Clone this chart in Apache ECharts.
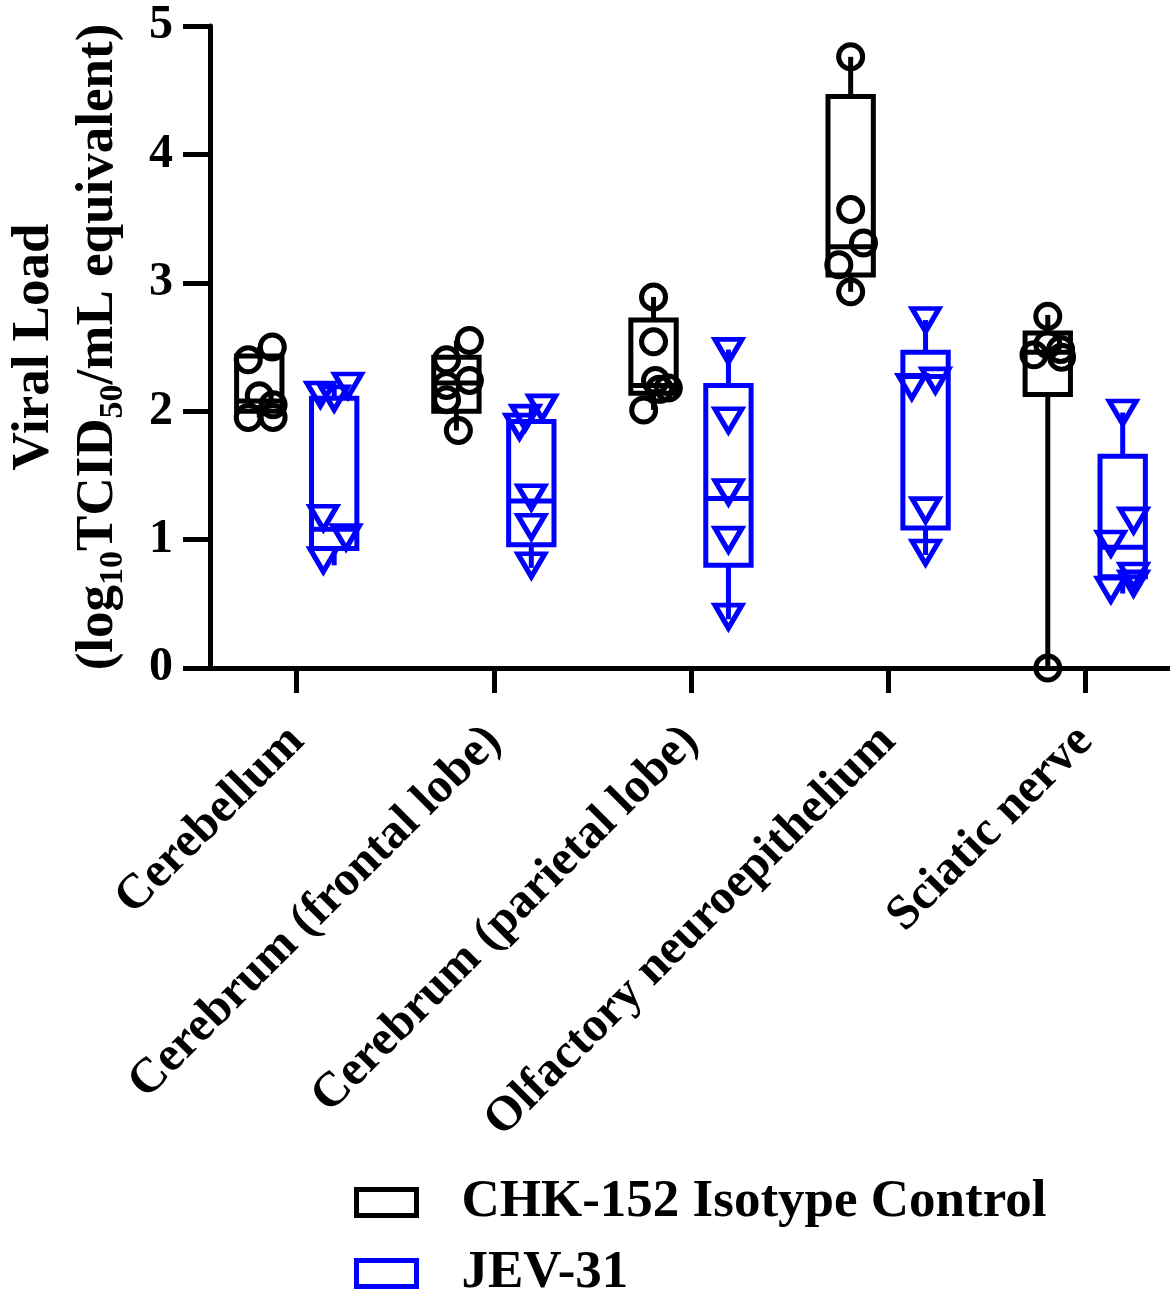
<!DOCTYPE html>
<html>
<head>
<meta charset="utf-8">
<title>Viral Load</title>
<script src="https://cdn.jsdelivr.net/npm/echarts@6/dist/echarts.min.js"></script>
<style>
    html, body { margin: 0; padding: 0; background: #fff; }
    #chart { width: 1170px; height: 1291px; }
</style>
</head>
<body>
<div id="chart"></div>
<script>
    // tissues on the x axis
    const categories = ['Cerebellum', 'Cerebrum (frontal lobe)', 'Cerebrum (parietal lobe)', 'Olfactory neuroepithelium', 'Sciatic nerve']
    const groups = ['CHK-152 Isotype Control', 'JEV-31']
    const yTicks = [0, 1, 2, 3, 4, 5]

    // box stats per tissue: [min, q1, median, q3, max]
    const isoBox = [
        [1.95, 2.00, 2.08, 2.43, 2.50],
        [1.85, 2.00, 2.22, 2.42, 2.55],
        [2.01, 2.14, 2.20, 2.71, 2.89],
        [2.93, 3.06, 3.28, 4.45, 4.76],
        [0.00, 2.13, 2.46, 2.61, 2.75]
    ]
    const jevBox = [
        [0.80, 0.93, 1.08, 2.10, 2.20],
        [0.78, 0.96, 1.30, 1.92, 2.03],
        [0.38, 0.80, 1.32, 2.20, 2.48],
        [0.88, 1.09, 2.27, 2.46, 2.71],
        [0.58, 0.71, 0.94, 1.65, 1.99]
    ]

    // individual animals
    const isoPoints = [
        [2.50, 2.40, 2.12, 2.05, 1.95, 1.95],
        [2.55, 2.40, 2.24, 2.20, 2.09, 1.85],
        [2.89, 2.54, 2.24, 2.18, 2.17, 2.01],
        [4.76, 3.57, 3.31, 3.14, 2.93],
        [2.74, 2.52, 2.48, 2.44, 2.42, 0.00]
    ]
    const jevPoints = [
        [2.20, 2.13, 2.10, 1.17, 1.02, 0.84],
        [2.03, 1.95, 1.88, 1.33, 1.10, 0.80],
        [2.47, 1.93, 1.37, 1.00, 0.40],
        [2.71, 2.24, 2.19, 1.23, 0.90],
        [1.99, 1.15, 0.97, 0.72, 0.66, 0.61]
    ]

    // horizontal scatter of the dots inside a box (category units)
    const isoJitter = [
        [0.066, -0.056, 0, 0.07, -0.056, 0.07],
        [0.066, -0.05, 0.066, -0.05, -0.05, 0.01],
        [0, 0, 0.01, 0.075, 0.03, -0.05],
        [0, 0, 0.065, -0.06, 0],
        [0, 0, 0.065, -0.07, 0.07, 0]
    ]
    const jevJitter = [
        [0.07, -0.07, 0, -0.055, 0.06, -0.055],
        [0.055, -0.03, -0.06, 0, 0, 0],
        [0, 0, 0, 0, 0],
        [0, 0.05, -0.07, 0, 0],
        [0, 0.055, -0.06, 0.055, 0.055, -0.06]
    ]

    const FONT = 'Liberation Serif'
    const BLACK = '#000000'
    const BLUE = '#0000ff'
    const SHIFT = 0.19
    const BOX_W = 0.23

    function boxData(stats) {
        return stats.map((s, i) => [i].concat(s))
    }

    function pointData(points, jitter, shift) {
        const out = []
        points.forEach((arr, i) => {
            arr.forEach((v, j) => {
                out.push([i + shift + jitter[i][j], v])
            })
        })
        return out
    }

    function boxSeries(name, stats, color, shift) {
        return {
            name: name,
            type: 'custom',
            clip: false,
            z: 2,
            data: boxData(stats),
            encode: { x: 0, y: [1, 2, 3, 4, 5] },
            renderItem: function (params, api) {
                const x = api.value(0) + shift
                const pMin = api.coord([x, api.value(1)])
                const pQ1 = api.coord([x, api.value(2)])
                const pMed = api.coord([x, api.value(3)])
                const pQ3 = api.coord([x, api.value(4)])
                const pMax = api.coord([x, api.value(5)])
                const half = api.size([BOX_W, 0])[0] / 2
                const cx = pMed[0]
                const lineStyle = { stroke: color, lineWidth: 5, fill: null }
                return {
                    type: 'group',
                    children: [
                        { type: 'line', shape: { x1: cx, y1: pMax[1], x2: cx, y2: pQ3[1] }, style: lineStyle },
                        { type: 'line', shape: { x1: cx, y1: pQ1[1], x2: cx, y2: pMin[1] }, style: lineStyle },
                        {
                            type: 'rect',
                            shape: { x: cx - half, y: pQ3[1], width: half * 2, height: pQ1[1] - pQ3[1] },
                            style: { stroke: color, lineWidth: 5, fill: 'rgba(255,255,255,0)', lineJoin: 'miter' }
                        },
                        { type: 'line', shape: { x1: cx - half, y1: pMed[1], x2: cx + half, y2: pMed[1] }, style: lineStyle }
                    ]
                }
            }
        }
    }

    function dotSeries(name, points, jitter, color, shift, symbol) {
        return {
            name: name,
            type: 'scatter',
            clip: false,
            z: 3,
            symbol: symbol,
            symbolRotate: symbol === 'triangle' ? 180 : 0,
            symbolSize: symbol === 'triangle' ? [27, 23] : 24,
            itemStyle: {
                color: 'rgba(255,255,255,0)',
                borderColor: color,
                borderWidth: 5,
                opacity: 1
            },
            emphasis: { disabled: true },
            data: pointData(points, jitter, shift)
        }
    }

    function legendFor(name, color, top) {
        return {
            orient: 'vertical',
            left: 354,
            top: top,
            padding: 0,
            itemWidth: 60,
            itemHeight: 26,
            icon: 'rect',
            selectedMode: false,
            textStyle: {
                fontFamily: FONT,
                fontWeight: 'bold',
                fontSize: 53,
                lineHeight: 52,
                color: '#000',
                padding: [0, 0, 0, 40]
            },
            data: [
                { name: name, itemStyle: { color: '#fff', borderColor: color, borderWidth: 5 } }
            ]
        }
    }

    const chart = echarts.init(document.getElementById('chart'))
    chart.setOption({
        backgroundColor: '#ffffff',
        animation: false,
        grid: {
            left: 210,
            right: 0,
            top: 26,
            bottom: 623,
            containLabel: false,
            outerBoundsMode: 'none'
        },
        legend: [
            legendFor(groups[0], BLACK, 1176),
            legendFor(groups[1], BLUE, 1247)
        ],
        xAxis: {
            type: 'value',
            min: -0.44,
            max: 4.43,
            splitLine: { show: false },
            axisLine: { onZero: false, lineStyle: { color: '#000', width: 5 } },
            axisTick: {
                show: true,
                customValues: [0, 1, 2, 3, 4],
                length: 25,
                lineStyle: { color: '#000', width: 5 }
            },
            axisLabel: {
                customValues: [0, 1, 2, 3, 4],
                formatter: function (v) { return categories[Math.round(v)] },
                rotate: 45,
                margin: 66,
                fontFamily: FONT,
                fontWeight: 'bold',
                fontSize: 49,
                color: '#000'
            }
        },
        yAxis: {
            type: 'value',
            min: yTicks[0],
            max: yTicks[yTicks.length - 1],
            interval: 1,
            splitLine: { show: false },
            axisLine: { show: true, onZero: false, lineStyle: { color: '#000', width: 5 } },
            axisTick: { show: true, length: 27, lineStyle: { color: '#000', width: 5 } },
            axisLabel: {
                margin: 37,
                fontFamily: FONT,
                fontWeight: 'bold',
                fontSize: 48,
                color: '#000'
            },
            name: '{a|Viral Load}\n{a|(log}{s|10}{a|TCID}{s|50}{a|/mL equivalent)}',
            nameLocation: 'middle',
            nameRotate: 90,
            nameGap: 80,
            nameTextStyle: {
                fontFamily: FONT,
                fontWeight: 'bold',
                fontSize: 53,
                color: '#000',
                rich: {
                    a: { fontFamily: FONT, fontWeight: 'bold', fontSize: 53, color: '#000', lineHeight: 64 },
                    s: { fontFamily: FONT, fontWeight: 'bold', fontSize: 34, color: '#000', lineHeight: 64, verticalAlign: 'bottom' }
                }
            }
        },
        series: [
            boxSeries(groups[0], isoBox, BLACK, -SHIFT),
            boxSeries(groups[1], jevBox, BLUE, SHIFT),
            dotSeries(groups[0], isoPoints, isoJitter, BLACK, -SHIFT, 'circle'),
            dotSeries(groups[1], jevPoints, jevJitter, BLUE, SHIFT, 'triangle')
        ]
    })
</script>
</body>
</html>
